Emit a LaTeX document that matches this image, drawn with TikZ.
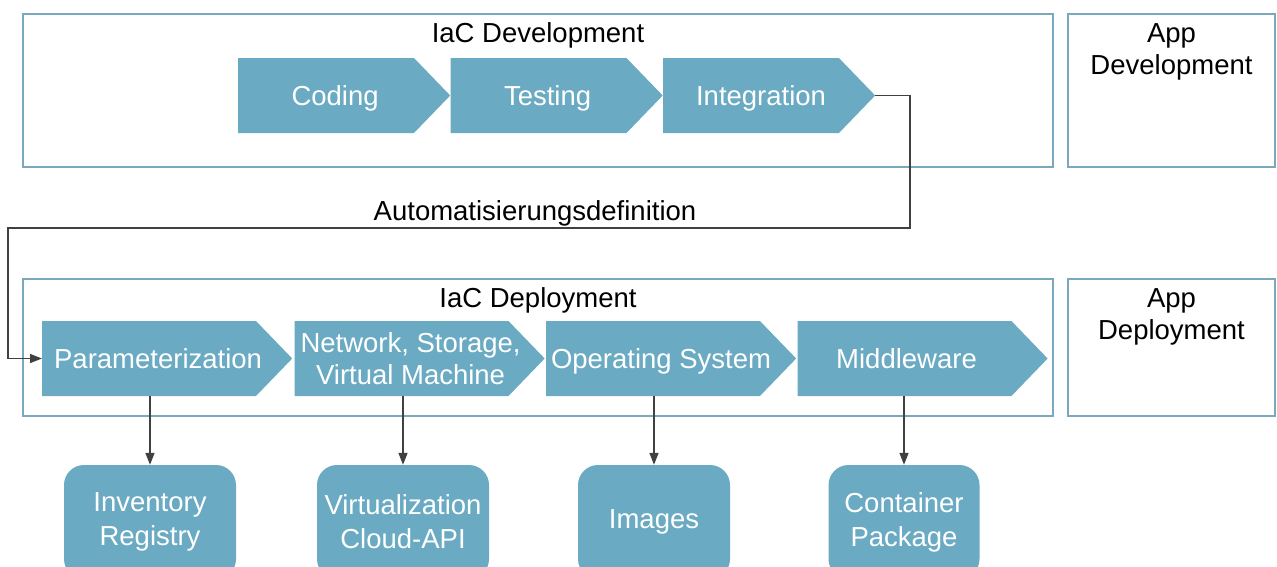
\documentclass[tikz,border=0pt]{standalone}
\usepackage{fontspec}
\setmainfont{Liberation Sans}
\usepackage{xcolor}
\usetikzlibrary{positioning,arrows.meta,shapes.symbols}
\definecolor{chevblue}{RGB}{106,170,194}
\definecolor{frameblue}{RGB}{122,168,188}
\definecolor{linegray}{RGB}{64,64,64}

\begin{document}
\begin{tikzpicture}[x=1pt,y=-1pt,
		font=\fontsize{27.5}{32}\selectfont,
		stagebox/.style={draw=frameblue,line width=2pt,inner sep=0pt},
		chevtext/.style={text=white,inner sep=0pt,align=center,text height=20pt,text depth=0pt},
		% #1 = step name, #2 = extra options of the name (shift off the body centre)
		chevron/.style 2 args={signal,signal to=east,signal pointer angle=92,fill=chevblue,
			minimum height=75pt,inner sep=0pt,label={[chevtext,#2]center:{#1}}},
		store/.style={rounded corners=20pt,fill=chevblue,text=white,minimum height=114pt,
			inner sep=0pt,align=center,font=\fontsize{27.5}{34}\selectfont},
		flow/.style={draw=linegray,line width=1.5pt,-{Triangle[length=12pt,width=9pt]}}]
				\path[use as bounding box,clip] (0,0) rectangle (1277,566);
				% frames
				\node[stagebox,minimum width=1030pt,minimum height=153pt] (devframe) at (538,90.5) {};
				\node[stagebox,minimum width=207pt,minimum height=153pt] (appdevframe) at (1171.5,90.5) {};
				\node[stagebox,minimum width=1030pt,minimum height=137pt] (depframe) at (538,347.5) {};
				\node[stagebox,minimum width=207pt,minimum height=137pt] (appdepframe) at (1171.5,347.5) {};
				% titles (base of a two-line node is its last line)
				\node[anchor=base] (devtitle) at (538,42) {IaC Development};
				\node[anchor=base,align=center] (appdevtitle) at (1171.5,74) {App\\Development};
				\node[anchor=base] (deptitle) at (538,307) {IaC Deployment};
				\node[anchor=base,align=center] (appdeptitle) at (1171.5,339) {App\\Deployment};
				% development chain
				\node[chevron={Coding}{xshift=9pt},minimum width=212pt,anchor=west] (coding) at (238,95.5) {};
				\node[chevron={Testing}{xshift=9pt},minimum width=212pt,right=0pt of coding] (testing) {};
				\node[chevron={Integration}{xshift=10pt},minimum width=212pt,right=0pt of testing] (integration) {};
				% deployment chain
				\node[chevron={Parameterization}{xshift=9pt},minimum width=250pt,anchor=west] (param) at (42,358.5) {};
				\node[chevron={Network, Storage,\\Virtual Machine}{xshift=9pt,text height=52pt},
					minimum width=250pt,right=2pt of param] (infra) {};
				\node[chevron={Operating System}{xshift=8pt},minimum width=250pt,right=1pt of infra] (os) {};
				\node[chevron={Middleware}{xshift=2pt},minimum width=250pt,right=1pt of os] (middleware) {};
				% tools below the deployment steps
				\foreach \nm/\x/\w/\lbl in {inventory/150/172/{Inventory\\Registry},virt/403/172/{Virtualization\\Cloud-API},
					images/654/152/Images,container/904/151/{Container\\Package}}{
					\node[store,minimum width=\w pt] (\nm) at (\x,522) {\lbl};
				}
				\foreach \src/\dst in {param/inventory,infra/virt,os/images,middleware/container}{
					\draw[flow] (\dst.north |- \src.south) -- (\dst.north);
				}
				% hand-over from development to deployment
				\coordinate (turnright) at (910,228);
				\coordinate (turnleft) at (8,228);
				\draw[flow] (integration.east) -| (turnright) -- (turnleft) |- (param.west);
				\node[anchor=base] (autodef) at (535,220) {Automatisierungsdefinition};
\end{tikzpicture}
\end{document}
